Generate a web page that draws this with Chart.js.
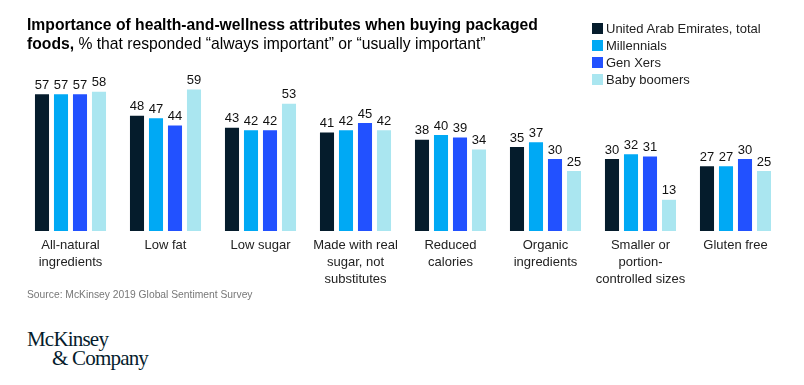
<!DOCTYPE html>
<html>
<head>
<meta charset="utf-8">
<script src="https://cdn.jsdelivr.net/npm/chart.js@4"></script>
<style>
  body { margin: 0; background: #fff; width: 804px; height: 385px; overflow: hidden; position: relative; font-family: "Liberation Sans", Arial, sans-serif; color: #000; }
  #chart { position: absolute; left: 0; top: 0; }
  .title { position: absolute; left: 27px; top: 15px; font-size: 15.7px; line-height: 19px; color: #000; }
  .title b { font-weight: bold; }
  .legend { position: absolute; left: 592px; top: 20px; font-size: 13px; line-height: 17px; color: #222; }
  .legend div { display: flex; align-items: center; }
  .legend span { display: inline-block; width: 11px; height: 11px; margin-right: 3px; }
  .source { position: absolute; left: 27px; top: 289px; font-size: 10.3px; color: #777; }
  .logo { position: absolute; left: 27px; top: 330px; font-family: "Liberation Serif", serif; font-size: 21px; line-height: 19px; color: #051c2c; letter-spacing: -0.8px; }
</style>
</head>
<body>
<canvas id="chart" width="804" height="300"></canvas>
<div class="title"><b>Importance of health-and-wellness attributes when buying packaged<br>foods,</b> % that responded “always important” or “usually important”</div>
<div class="legend" id="legend"></div>
<div class="source">Source: McKinsey 2019 Global Sentiment Survey</div>
<div class="logo">McKinsey<br><span style="padding-left:25px">&amp; Company</span></div>
<script>
const categories = [
    ['All-natural', 'ingredients'],
    ['Low fat'],
    ['Low sugar'],
    ['Made with real', 'sugar, not', 'substitutes'],
    ['Reduced', 'calories'],
    ['Organic', 'ingredients'],
    ['Smaller or', 'portion-', 'controlled sizes'],
    ['Gluten free']
];
const seriesNames = ['United Arab Emirates, total', 'Millennials', 'Gen Xers', 'Baby boomers'];
const seriesColors = ['#051c2c', '#00a9f4', '#2251ff', '#aae6f0'];
const uaeTotal = [57, 48, 43, 41, 38, 35, 30, 27];
const millennials = [57, 47, 42, 42, 40, 37, 32, 27];
const genXers = [57, 44, 42, 45, 39, 30, 31, 30];
const babyBoomers = [58, 59, 53, 42, 34, 25, 13, 25];
const seriesValues = [uaeTotal, millennials, genXers, babyBoomers];

// legend
document.getElementById('legend').innerHTML = seriesNames.map((name, i) =>
    `<div><span style="background:${seriesColors[i]}"></span>${name}</div>`).join('');

// value labels above bars
const valueLabels = {
    id: 'valueLabels',
    afterDatasetsDraw(chart) {
        const ctx = chart.ctx;
        ctx.save();
        ctx.font = '13px "Liberation Sans", Arial, sans-serif';
        ctx.fillStyle = '#111';
        ctx.textAlign = 'center';
        ctx.textBaseline = 'middle';
        chart.data.datasets.forEach((ds, di) => {
            chart.getDatasetMeta(di).data.forEach((bar, i) => {
                ctx.fillText(ds.data[i], bar.x, bar.y - 9);
            });
        });
        ctx.restore();
    }
};

new Chart(document.getElementById('chart'), {
    type: 'bar',
    data: {
        labels: categories,
        datasets: seriesValues.map((vals, i) => ({
            label: seriesNames[i],
            data: vals,
            backgroundColor: seriesColors[i],
            categoryPercentage: 0.8,
            barPercentage: 0.74
        }))
    },
    options: {
        responsive: false,
        animation: false,
        devicePixelRatio: 1,
        layout: { padding: { left: 23, right: 21, top: 63, bottom: 0 } },
        plugins: { legend: { display: false }, tooltip: { enabled: false } },
        scales: {
            x: {
                grid: { display: false, drawTicks: false },
                border: { display: false },
                ticks: {
                    padding: 6,
                    color: '#222',
                    maxRotation: 0,
                    autoSkip: false,
                    font: { family: '"Liberation Sans", Arial, sans-serif', size: 13, lineHeight: 1.3 }
                },
                afterFit: (scale) => { scale.height = 69; }
            },
            y: { display: false, min: 0, max: 70 }
        }
    },
    plugins: [valueLabels]
});
</script>
</body>
</html>
